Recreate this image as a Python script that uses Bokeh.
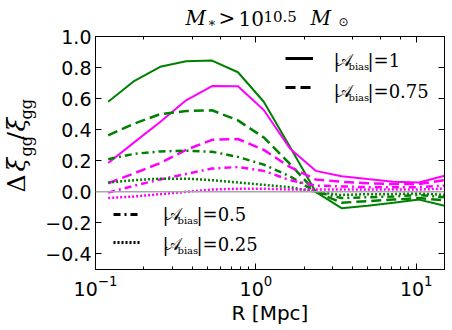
import math
from bokeh.plotting import figure
from bokeh.layouts import row, column
from bokeh.models import (LogAxis, LinearAxis, FixedTicker, Label,
                          Legend, LegendItem, Range1d, Span)
from bokeh.embed import file_html
from bokeh.resources import INLINE

# ---------------- data ----------------
R = [0.12, 0.175, 0.253, 0.367, 0.533, 0.773, 1.12, 1.63, 2.36, 3.42, 4.97, 7.2, 10.4, 15.0]

green_100 = [0.58, 0.715, 0.805, 0.84, 0.845, 0.77, 0.58, 0.29, 0.0, -0.105, -0.09, -0.07, -0.05, -0.09]
magenta_100 = [0.186, 0.32, 0.45, 0.589, 0.681, 0.679, 0.527, 0.279, 0.135, 0.10, 0.082, 0.065, 0.06, 0.103]
green_075 = [0.364, 0.44, 0.50, 0.52, 0.525, 0.46, 0.35, 0.18, 0.0, -0.07, -0.06, -0.05, -0.04, -0.055]
magenta_075 = [0.055, 0.12, 0.185, 0.27, 0.335, 0.34, 0.27, 0.16, 0.08, 0.065, 0.055, 0.05, 0.05, 0.075]
green_050 = [0.21, 0.245, 0.26, 0.265, 0.258, 0.225, 0.175, 0.10, 0.0, -0.04, -0.035, -0.03, -0.02, -0.035]
magenta_050 = [-0.005, 0.04, 0.08, 0.115, 0.15, 0.16, 0.135, 0.075, 0.04, 0.035, 0.03, 0.03, 0.03, 0.04]
green_025 = [0.06, 0.075, 0.085, 0.085, 0.075, 0.06, 0.045, 0.03, 0.0, -0.02, -0.015, -0.015, -0.01, -0.02]
magenta_025 = [-0.04, -0.03, -0.015, 0.0, 0.015, 0.02, 0.02, 0.015, 0.015, 0.015, 0.015, 0.015, 0.015, 0.02]

y_ticks = [-0.4, -0.2, 0.0, 0.2, 0.4, 0.6, 0.8, 1.0]
y_tick_labels = ["\u22120.4", "\u22120.2", "0.0", "0.2", "0.4", "0.6", "0.8", "1.0"]
legend_values = ["1", "0.75", "0.5", "0.25"]

GREEN = "#008000"
MAGENTA = "#ff00ff"
DASHES = ["solid", "10 5", "7 4 2 4", "2 2"]
WIDTHS = [2, 2.5, 2.5, 2.5]

W, H = 452, 330
TH = 29           # height of the title strip
TOPB = 36 - TH    # top border of the main figure (hidden top axis)
YW = 40           # width of the y-label strip
FL, FB = 95, 269  # frame left / bottom in page pixels
SHIFT = 0.36      # empirical baseline correction (em)

# ---------------- main figure ----------------
p = figure(width=W - YW, height=H - TH, x_axis_type="log",
           x_range=Range1d(0.1, 15), y_range=Range1d(-0.5, 1.0),
           output_backend="svg", toolbar_location=None, title_location=None,
           min_border_left=FL - YW, min_border_right=8,
           min_border_top=TOPB, min_border_bottom=H - FB)
p.background_fill_color = "white"
p.border_fill_color = "white"
p.outline_line_color = "black"
p.outline_line_width = 1
p.xgrid.grid_line_color = None
p.ygrid.grid_line_color = None

p.add_layout(Span(location=0, dimension="width", line_color="#a8a8a8", line_width=1.5))

series = [(green_100, magenta_100), (green_075, magenta_075), (green_050, magenta_050), (green_025, magenta_025)]
for (g, m), dash, w in zip(series, DASHES, WIDTHS):
    p.line(R, g, line_color=GREEN, line_width=w, line_dash=dash)
    p.line(R, m, line_color=MAGENTA, line_width=w, line_dash=dash)

def style_axis(ax, show_labels):
    ax.major_tick_in = 6
    ax.major_tick_out = 0
    ax.minor_tick_in = 3
    ax.minor_tick_out = 0
    ax.axis_line_color = "black"
    ax.major_tick_line_color = "black"
    ax.minor_tick_line_color = "black"
    ax.major_label_text_font = "DejaVu Sans"
    ax.major_label_text_color = "black"
    if show_labels:
        ax.major_label_text_font_size = "19px"
    else:
        ax.major_label_text_font_size = "1px"
        ax.major_label_text_alpha = 0
        ax.major_label_standoff = 0
        ax.axis_label_standoff = 0

xb = p.xaxis[0]
style_axis(xb, True)
xb.major_label_standoff = 5
xb.axis_label = "R [Mpc]"
xb.axis_label_text_font = "DejaVu Sans"
xb.axis_label_text_font_size = "20px"
xb.axis_label_text_font_style = "normal"
xb.axis_label_text_color = "black"
xb.axis_label_standoff = 2

yl = p.yaxis[0]
yl.ticker = FixedTicker(ticks=y_ticks, minor_ticks=[])
yl.major_label_overrides = {t: s for t, s in zip(y_ticks, y_tick_labels)}
style_axis(yl, True)
yl.major_label_standoff = 4

xt = LogAxis()
style_axis(xt, False)
p.add_layout(xt, "above")

yr = LinearAxis(ticker=FixedTicker(ticks=y_ticks, minor_ticks=[]))
style_axis(yr, False)
p.add_layout(yr, "right")

def make_label(fig, text, sx, sy, size, font="DejaVu Serif", style="normal", angle=0.0):
    if angle == 0.0:
        sy = sy + SHIFT * size
    else:
        sx = sx - SHIFT * size
    fig.add_layout(Label(x=sx, y=sy, x_units="screen", y_units="screen",
                         text=text, text_font=font, text_font_size=f"{size}px",
                         text_font_style=style, text_align="left",
                         text_baseline="alphabetic", angle=angle, text_color="black"))

# ---------------- legends (inside frame) ----------------
nan = float("nan")
samples = [p.line([nan], [nan], line_color="black", line_width=3, line_dash=d) for d in DASHES]

leg1 = Legend(items=[LegendItem(label=" ", renderers=[samples[0]]),
                     LegendItem(label=" ", renderers=[samples[1]])],
              location=(190, 172), glyph_width=28, glyph_height=20, spacing=9,
              padding=0, margin=0, border_line_alpha=0, background_fill_alpha=0,
              label_text_font_size="8px", label_standoff=0)
leg2 = Legend(items=[LegendItem(label=" ", renderers=[samples[2]]),
                     LegendItem(label=" ", renderers=[samples[3]])],
              location=(18, 17), glyph_width=27, glyph_height=20, spacing=8,
              padding=0, margin=0, border_line_alpha=0, background_fill_alpha=0,
              label_text_font_size="8px", label_standoff=0)
p.add_layout(leg1)
p.add_layout(leg2)

def plab(text, px, py, size, **kw):
    make_label(p, text, px - FL, FB - py, size, **kw)

def legend_text(x0, base, val):
    plab("|", x0, base, 18)
    plab("\U0001D49C", x0 + 2, base, 17)
    plab("bias", x0 + 15, base + 4, 10)
    plab("|=" + val, x0 + 34, base, 18)

legend_text(333, 66, legend_values[0])
legend_text(333, 97, legend_values[1])
legend_text(162, 220, legend_values[2])
legend_text(162, 250, legend_values[3])

# ---------------- title strip ----------------
tfig = figure(width=W, height=TH, x_range=Range1d(0, 1), y_range=Range1d(0, 1),
              output_backend="svg", toolbar_location=None, title_location=None,
              x_axis_location=None, y_axis_location=None, min_border=0)
tfig.outline_line_color = None
tfig.grid.visible = False

def tlab(text, px, py, size, **kw):
    make_label(tfig, text, px, TH - py, size, **kw)

tlab("M", 185, 25, 20, style="italic")
tlab("\u2217", 207, 27, 13)
tlab(">", 218, 25, 20)
tlab("10", 238, 25, 20)
tlab("10.5", 263, 21, 15)
tlab("M", 310, 25, 20, style="italic")
tlab("\u2299", 338, 26, 12, font="DejaVu Sans")

# ---------------- y-label strip (frame aligned with main frame) ----------------
yfig = figure(width=YW, height=H - TH, x_range=Range1d(0, 1), y_range=Range1d(0, 1),
              output_backend="svg", toolbar_location=None, title_location=None,
              x_axis_location=None, y_axis_location=None, min_border=0)
yfig.outline_line_color = None
yfig.grid.visible = False

def ylab(text, px, py, size, **kw):
    make_label(yfig, text, px, FB - py, size, **kw)

A = math.pi / 2
ylab("\u0394", 25, 192, 25, angle=A)
ylab("\u03be", 25, 171, 25, style="italic", angle=A)
ylab("gg", 32, 156, 16, angle=A)
ylab("/", 25, 140, 25, angle=A)
ylab("\u03be", 25, 131, 25, style="italic", angle=A)
ylab("gg", 32, 119, 16, angle=A)

layout = column(tfig, row(yfig, p, spacing=0), spacing=0)
open("out.html", "w").write(file_html(layout, INLINE))
